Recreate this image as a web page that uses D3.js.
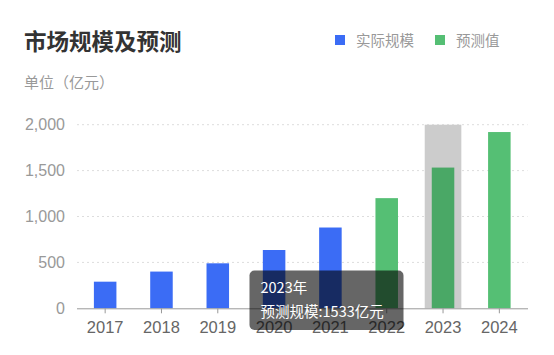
<!DOCTYPE html>
<html><head><meta charset="utf-8">
<script src="https://cdn.jsdelivr.net/npm/d3@7"></script>
<style>body{margin:0;background:#fff;}svg{display:block;font-family:"Noto Sans CJK SC","Noto Sans",sans-serif;}</style>
</head><body><svg id="c" width="554" height="355"></svg>
<script>
const years = ["2017","2018","2019","2020","2021","2022","2023","2024"];
const values = [290, 400, 490, 635, 880, 1200, 1533, 1920];
const kinds = ["actual","actual","actual","actual","actual","forecast","forecast","forecast"];
const yTicks = [0, 500, 1000, 1500, 2000];
const legendItems = [{key:"actual", label:"实际规模"}, {key:"forecast", label:"预测值"}];
const highlightYear = "2023";

const colors = {actual:"#3b6cf5", forecast:"#55bf74"};
const svg = d3.select("#c");
const x = d3.scaleBand().domain(years).range([77, 527.5]).paddingInner(0).paddingOuter(0);
const y = d3.scaleLinear().domain([0, 2000]).range([308.3, 124.7]);

svg.append("text").attr("x",24).attr("y",50).attr("font-size",22.5).attr("font-weight","bold").attr("fill","#333").text("市场规模及预测");
svg.append("text").attr("x",24).attr("y",88).attr("font-size",15).attr("fill","#999").text("单位（亿元）");

const lg = svg.append("g");
const lx = [335, 435];
legendItems.forEach((d,i)=>{
  lg.append("rect").attr("x",lx[i]).attr("y",35).attr("width",10).attr("height",10).attr("fill",colors[d.key]);
  lg.append("text").attr("x",lx[i]+21).attr("y",45.5).attr("font-size",14.5).attr("fill","#999").text(d.label);
});

// grid
svg.append("g").selectAll("line").data(yTicks.filter(t=>t>0)).join("line")
  .attr("x1",77).attr("x2",527.5).attr("y1",d=>y(d)).attr("y2",d=>y(d))
  .attr("stroke","#ddd").attr("stroke-dasharray","2,3");

// y labels
const ya = svg.append("g").attr("transform","translate(77,0)")
  .call(d3.axisLeft(y).tickValues(yTicks).tickFormat(d3.format(",")).tickSize(0).tickPadding(12));
ya.select(".domain").remove();
ya.selectAll("text").attr("font-size",16).attr("fill","#999").attr("font-family","'Liberation Sans',Arial,sans-serif");

// shadow
const bw = x.bandwidth();
svg.append("rect").attr("x",x(highlightYear)+bw*0.175).attr("width",bw*0.65)
  .attr("y",y(2000)).attr("height",y(0)-y(2000)).attr("fill","#cccccc");

// bars
svg.append("g").selectAll("rect").data(years).join("rect")
  .attr("x",d=>x(d)+bw*0.3).attr("width",bw*0.4)
  .attr("y",(d,i)=>y(values[i])).attr("height",(d,i)=>y(0)-y(values[i]))
  .attr("fill",(d,i)=> d===highlightYear ? "#4aa866" : colors[kinds[i]]);

// x axis
const xa = svg.append("g").attr("transform",`translate(0,${y(0)})`)
  .call(d3.axisBottom(x).tickSize(5).tickPadding(8));
xa.select(".domain").attr("stroke","#999").attr("d","M77,0.5H528");
xa.selectAll(".tick line").attr("stroke","#999");
xa.selectAll("text").attr("font-size",16.5).attr("fill","#666").attr("font-family","'Liberation Sans',Arial,sans-serif");

// tooltip
const hi = years.indexOf(highlightYear);
const tt = svg.append("g");
tt.append("rect").attr("x",249.5).attr("y",270.5).attr("width",154).attr("height",59.5).attr("rx",5).attr("fill","rgba(0,0,0,0.6)");
tt.append("text").attr("x",260.5).attr("y",293).attr("font-size",14.5).attr("fill","#fff").text(highlightYear+"年");
tt.append("text").attr("x",260.5).attr("y",317).attr("font-size",14.5).attr("fill","#fff").text("预测规模:"+values[hi]+"亿元");
</script></body></html>
